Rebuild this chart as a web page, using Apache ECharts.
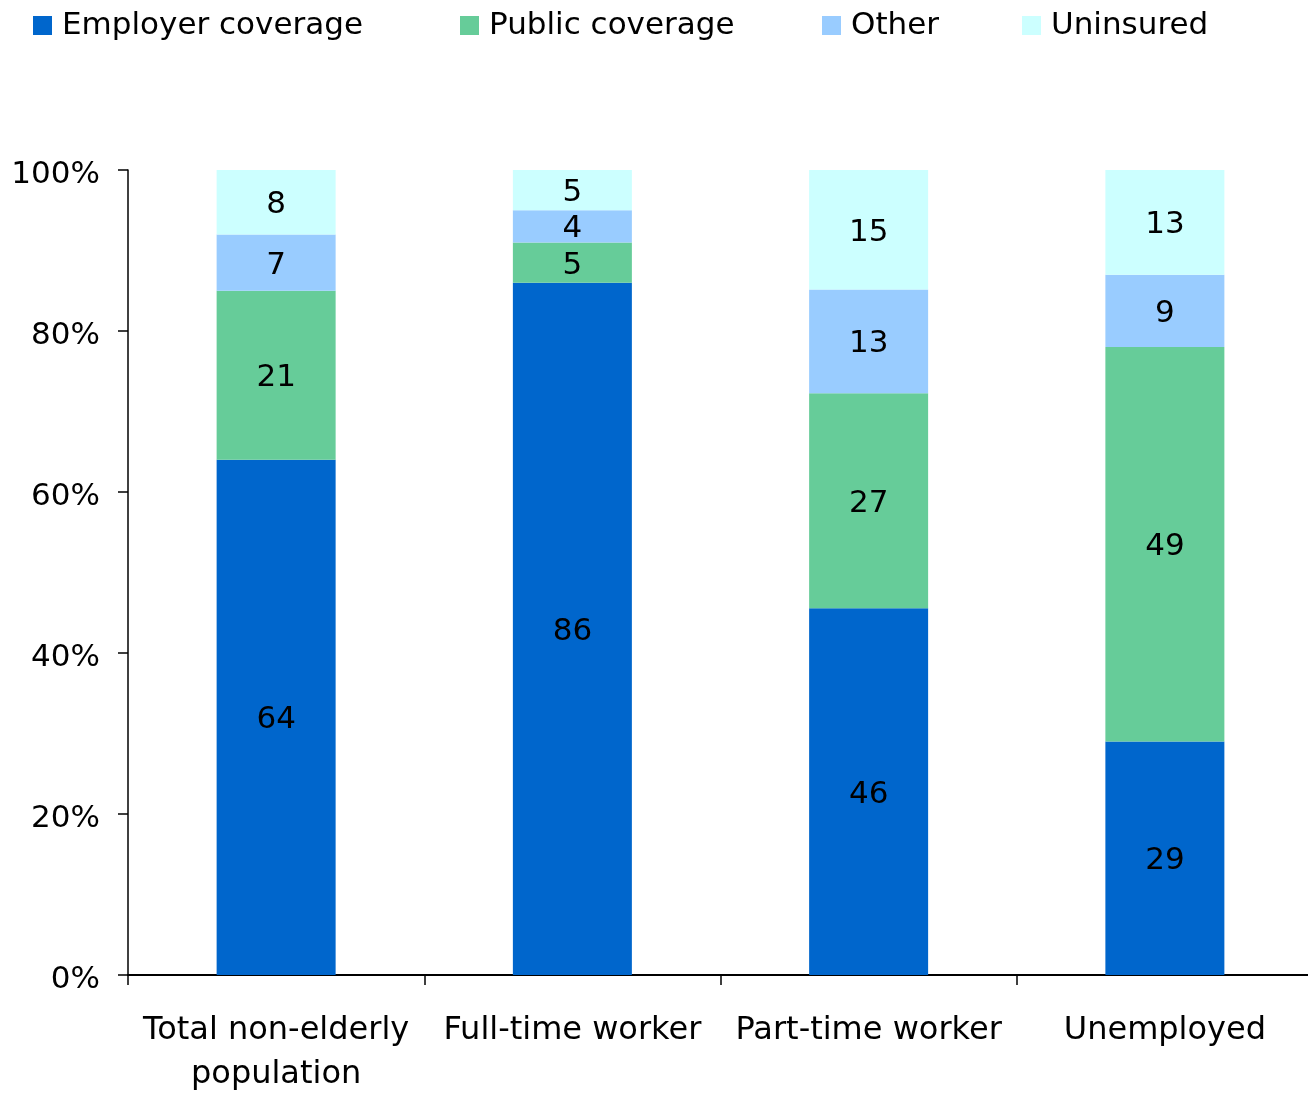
<!DOCTYPE html>
<html><head><meta charset="utf-8">
<script src="https://cdn.jsdelivr.net/npm/echarts@6/dist/echarts.min.js"></script>
<style>html,body{margin:0;padding:0;background:#fff;overflow:hidden}#c{position:absolute;left:0;top:0;width:1308px;height:1093px}</style>
</head><body><div id="c"></div>
<script>
const categories = ['Total non-elderly\npopulation', 'Full-time worker', 'Part-time worker', 'Unemployed'];
const seriesNames = ['Employer coverage', 'Public coverage', 'Other', 'Uninsured'];
const employer = [64, 86, 46, 29];
const publicCov = [21, 5, 27, 49];
const other = [7, 4, 13, 9];
const uninsured = [8, 5, 15, 13];
const yTicks = [0, 20, 40, 60, 80, 100];
const colors = ['#0066CC', '#66CC99', '#99CCFF', '#CCFFFF'];

const raw = [employer, publicCov, other, uninsured];
const totals = categories.map((_, i) => raw.reduce((s, a) => s + a[i], 0));
const FONT = 'DejaVu Sans';
const FS = 31;
const legendX = [33, 460, 822, 1022];

const chart = echarts.init(document.getElementById('c'), null, {renderer: 'canvas', width: 1308, height: 1093});
chart.setOption({
  animation: false,
  backgroundColor: '#fff',
  legend: seriesNames.map((n, i) => ({
    data: [n], left: legendX[i], top: 10, padding: 0, itemWidth: 19, itemHeight: 19, itemGap: 0,
    icon: 'rect', textStyle: {fontFamily: FONT, fontSize: FS, color: '#000', padding: [0, 0, 0, 5]},
    selectedMode: false
  })),
  grid: {left: 128, top: 170, width: 1185, height: 805, containLabel: false, outerBoundsMode: 'none'},
  xAxis: {
    type: 'category', data: categories,
    axisLine: {lineStyle: {color: '#000', width: 2}},
    axisTick: {show: true, length: 10, lineStyle: {color: '#000', width: 1.5}},
    axisLabel: {fontFamily: FONT, fontSize: 32, color: '#000', margin: 34, lineHeight: 44, interval: 0}
  },
  yAxis: {
    type: 'value', min: 0, max: 100, interval: 20,
    axisLine: {show: true, lineStyle: {color: '#000', width: 1.5}},
    axisTick: {show: true, length: 10, lineStyle: {color: '#000', width: 1.5}},
    splitLine: {show: false},
    axisLabel: {fontFamily: FONT, fontSize: FS, color: '#000', margin: 28, verticalAlign: 'top', lineHeight: 10,
      formatter: v => yTicks.includes(v) ? v + '%' : ''}
  },
  series: seriesNames.map((n, si) => ({
    name: n, type: 'bar', stack: 'all', barWidth: 119,
    itemStyle: {color: colors[si]},
    data: raw[si].map((v, i) => ({value: v / totals[i] * 100})),
    label: {show: true, position: 'inside', offset: [0, 3], fontFamily: FONT, fontSize: FS, color: '#000',
      formatter: p => String(raw[si][p.dataIndex])}
  }))
});
</script></body></html>
